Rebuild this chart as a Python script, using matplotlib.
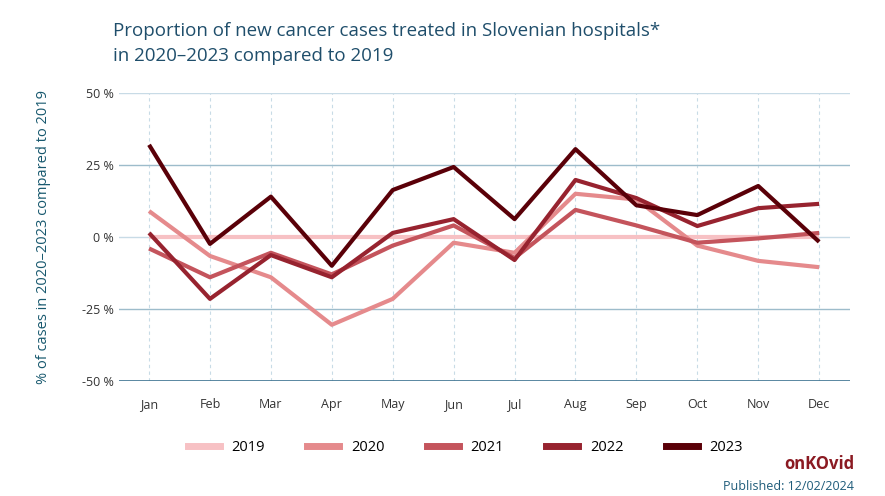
import matplotlib
matplotlib.use("Agg")
import matplotlib.pyplot as plt
from matplotlib.lines import Line2D

plt.rcParams['font.family'] = ['Open Sans', 'DejaVu Sans']

months = ["Jan","Feb","Mar","Apr","May","Jun","Jul","Aug","Sep","Oct","Nov","Dec"]
v2019 = [0]*12
v2020 = [9, -6.6, -14, -30.5, -21.5, -2, -5.5, 15, 13, -3, -8.3, -10.5]
v2021 = [-4, -14, -5.5, -13, -3, 4, -7.3, 9.4, 4, -2, -0.5, 1.4]
v2022 = [1.4, -21.5, -6.3, -14, 1.4, 6.2, -8, 19.8, 13.5, 3.8, 10, 11.5]
v2023 = [32, -2.4, 14, -10, 16.3, 24.3, 6.2, 30.5, 11, 7.6, 17.7, -1.7]
series = [("2019", v2019, "#f7c1c4"), ("2020", v2020, "#e58a8c"),
          ("2021", v2021, "#c4545c"), ("2022", v2022, "#97232f"),
          ("2023", v2023, "#5a0008")]
yticks = [-50, -25, 0, 25, 50]

fig = plt.figure(figsize=(8.85, 4.96), dpi=100)
ax = fig.add_axes([0.134, 0.232, 0.826, 0.5805])
x = range(12)
for m in x:
    ax.axvline(m, color="#c8dbe6", lw=0.8, ls=(0, (3, 3)), zorder=0)
for t in yticks:
    c = "#9dbccb" if t in (25, -25) else "#c8dbe6"
    if t == -50: c = "#3d7391"
    ax.axhline(t, color=c, lw=1.2 if t == -50 else 1, zorder=0)
for name, vals, col in series:
    ax.plot(x, vals, color=col, lw=3, label=name, solid_capstyle="butt")
ax.set_xlim(-0.5, 11.5)
ax.set_ylim(-50, 50)
ax.set_xticks(list(x)); ax.set_xticklabels(months)
ax.set_yticks(yticks); ax.set_yticklabels([f"{t} %" for t in yticks])
ax.tick_params(length=0, labelsize=9, colors="#333333")
ax.tick_params(axis="x", pad=12)
for s in ax.spines.values(): s.set_visible(False)
ax.set_ylabel("% of cases in 2020–2023 compared to 2019", color="#17586e", fontsize=10.5, labelpad=22)

fig.text(0.128, 0.955, "Proportion of new cancer cases treated in Slovenian hospitals*\nin 2020–2023 compared to 2019",
         fontsize=13.5, color="#1f4e6b", va="top", linespacing=1.45)
handles = [Line2D([0], [0], color=c, lw=5) for _, _, c in series]
fig.legend(handles, [n for n, _, _ in series], loc="center left", bbox_to_anchor=(0.212, 0.098),
           ncol=5, frameon=False, fontsize=10.5, handlelength=2.2, columnspacing=2.9,
           borderpad=0, borderaxespad=0)
fig.text(0.965, 0.055, "onKOvid", color="#8b1a22", fontsize=12, fontweight="bold", ha="right")
fig.text(0.965, 0.012, "Published: 12/02/2024", color="#1f5c7a", fontsize=9, ha="right")
fig.savefig("out.png", dpi=100)
